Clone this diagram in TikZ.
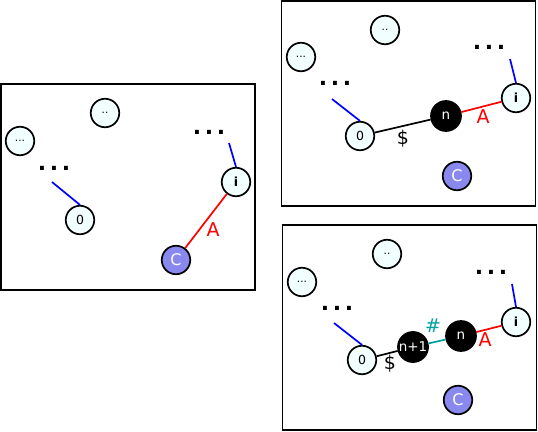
\documentclass[tikz,border=0pt]{standalone}
\usepackage{fontspec}
\setmainfont{DejaVu Sans}
\begin{document}
\begin{tikzpicture}[x=1pt,y=-1pt,
  panel/.style={draw=black,line width=1.1pt},
  wnode/.style={circle,draw=black,line width=1.7pt,fill=azurefill,minimum size=28.5pt,inner sep=0pt,font=\fontsize{12.5}{12.5}\selectfont},
  snode/.style={wnode,font=\fontsize{10.5}{10.5}\selectfont},
  bnode/.style={circle,draw=black,line width=1.7pt,fill=black,text=white,minimum size=30pt,inner sep=0pt,font=\fontsize{13.5}{13.5}\selectfont},
  cnode/.style={circle,draw=black,line width=1.7pt,fill=cfill,text=white,minimum size=28.5pt,inner sep=0pt,font=\fontsize{16}{16}\selectfont},
  dots/.style={inner sep=0pt,font=\fontsize{22}{22}\selectfont\bfseries},
  lbl/.style={inner sep=0pt,font=\fontsize{19}{19}\selectfont},
  blueline/.style={draw=blue,line width=1.7pt},
  redline/.style={draw=red,line width=1.7pt},
  blackline/.style={draw=black,line width=1.7pt},
  tealline/.style={draw=tealc,line width=1.7pt}
]
\definecolor{azurefill}{RGB}{242,255,255}
\definecolor{cfill}{RGB}{136,136,238}
\definecolor{tealc}{RGB}{0,160,160}
\useasboundingbox (0,0) rectangle (538,431);
\newcommand{\mydots}{.\kern3.6pt.\kern3.6pt.}
% ---------- panel 1 ----------
\node[panel,minimum width=254pt,minimum height=206pt,inner sep=0pt] (p1) at (128,187) {};
\node[snode] (a1) at (105,113) {..};
\node[snode] (b1) at (20,141) {...};
\node[dots] (d1l) at (54,168) {\mydots};
\coordinate (e1l) at (52,182);
\node[wnode] (z1) at (80,220) {0};
\node[dots] (d1r) at (209,132) {\mydots};
\coordinate (e1r) at (229,143);
\node[wnode] (i1) at (236,182) {\textbf{i}};
\node[cnode] (c1) at (176,260) {C};
\draw[blueline] (e1l) -- (z1.north);
\draw[blueline] (e1r) -- (i1.north);
\draw[redline] (i1) -- (c1);
\node[lbl,text=red] (A1) at (213,230) {A};
% ---------- panel 2 ----------
\node[panel,minimum width=254pt,minimum height=205pt,inner sep=0pt] (p2) at (408.5,103.5) {};
\node[snode] (a2) at (385,30) {..};
\node[snode] (b2) at (301,57) {...};
\node[dots] (d2l) at (335,83) {\mydots};
\coordinate (e2l) at (332,99);
\node[wnode] (z2) at (360,136) {0};
\node[bnode] (n2) at (446,116) {n};
\node[wnode] (i2) at (516,98) {\textbf{i}};
\node[dots] (d2r) at (489,47) {\mydots};
\coordinate (e2r) at (510,59);
\node[cnode] (c2) at (457,176) {C};
\draw[blueline] (e2l) -- (z2.north);
\draw[blueline] (e2r) -- (i2.north);
\draw[blackline] (z2) -- (n2);
\draw[redline] (n2) -- (i2);
\node[lbl] (S2) at (403,139) {\$};
\node[lbl,text=red] (A2) at (483,117) {A};
% ---------- panel 3 ----------
\node[panel,minimum width=254pt,minimum height=205pt,inner sep=0pt] (p3) at (409.5,327.5) {};
\node[snode] (a3) at (387,254) {..};
\node[snode] (b3) at (302,282) {...};
\node[dots] (d3l) at (337,308) {\mydots};
\coordinate (e3l) at (334,323);
\node[wnode] (z3) at (362,360) {0};
\node[bnode] (m3) at (413,347) {n+1};
\node[bnode] (n3) at (461,336) {n};
\node[wnode] (i3) at (516,322) {\textbf{i}};
\node[dots] (d3r) at (491,272) {\mydots};
\coordinate (e3r) at (512,284);
\node[cnode] (c3) at (458,400) {C};
\draw[blueline] (e3l) -- (z3.north);
\draw[blueline] (e3r) -- (i3.north);
\draw[blackline] (z3) -- (m3);
\draw[tealline] (m3) -- (n3);
\draw[redline] (n3) -- (i3);
\node[lbl] (S3) at (390,364) {\$};
\node[lbl,text=tealc] (H3) at (433,326) {\#};
\node[lbl,text=red] (A3) at (485,340) {A};
\end{tikzpicture}
\end{document}
